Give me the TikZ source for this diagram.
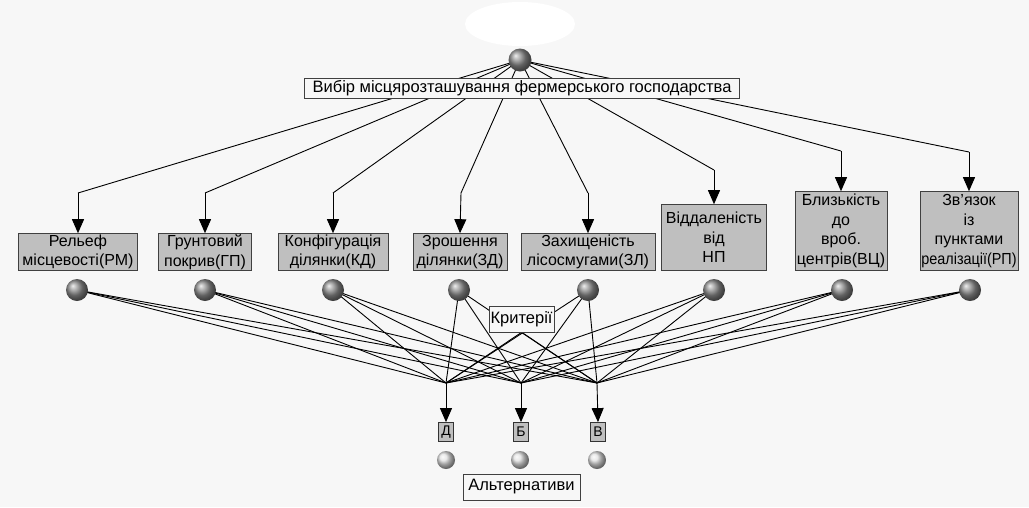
\documentclass[tikz,border=0pt]{standalone}
\usepackage{fontspec}
\setmainfont{Liberation Sans}
\usetikzlibrary{arrows.meta,shadings}
\pgfdeclarelayer{back}
\pgfdeclarelayer{lines}
\pgfsetlayers{back,lines,main}
\tikzset{
  crit/.style={draw=black!75, fill=black!25, line width=0.8pt, align=center, inner sep=0.5pt,
    font=\fontsize{16}{19.5}\selectfont, anchor=south},
  altbox/.style={draw=black!80, fill=black!25, line width=0.8pt, inner sep=1pt,
    minimum width=15pt, minimum height=19pt, font=\fontsize{14}{15}\selectfont},
  lbl/.style={draw=black!75, fill=white!97!black, line width=0.8pt, inner sep=2pt,
    font=\fontsize{16.5}{18}\selectfont},
  cball/.style={circle, inner sep=0pt, minimum size=22pt, shading=ball, ball color=black!45},
  aball/.style={circle, inner sep=0pt, minimum size=18pt, shading=ball, ball color=black!12},
  conn/.style={line width=0.9pt, black},
  arr/.style={line width=0.9pt, black, -{Triangle[width=12pt,length=14pt]}},
}
\begin{document}
\begin{tikzpicture}[x=1pt,y=-1pt]
\begin{pgfonlayer}{back}
\fill[black!3] (0,0) rectangle (1029,507);
\fill[white] (520,24) ellipse [x radius=55, y radius=22];
\end{pgfonlayer}
\useasboundingbox (0,0) rectangle (1029,507);

% top
\node[cball, minimum size=23pt] (top) at (520,60) {};
\node[lbl, minimum width=435pt, minimum height=20pt, inner sep=0.5pt] (goal) at (522,88) {Вибір місцярозташування фермерського господарства};

% criteria boxes
\node[crit, minimum width=119pt, minimum height=37pt] (c1) at (78,271) {Рельеф\\місцевості(РМ)};
\node[crit, minimum width=93pt, minimum height=37pt] (c2) at (205,271) {Грунтовий\\покрив(ГП)};
\node[crit, minimum width=110pt, minimum height=37pt] (c3) at (333,271) {Конфігурація\\ділянки(КД)};
\node[crit, minimum width=94pt, minimum height=37pt] (c4) at (460,271) {Зрошення\\ділянки(ЗД)};
\node[crit, minimum width=134pt, minimum height=37pt] (c5) at (588,271) {Захищеність\\лісосмугами(ЗЛ)};
\node[crit, minimum width=105pt, minimum height=66pt] (c6) at (714,271) {Віддаленість\\від\\НП};
\node[crit, minimum width=92pt, minimum height=79pt] (c7) at (841,271) {Близькість\\до\\вроб.\\центрів(ВЦ)};
\node[crit, minimum width=98pt, minimum height=79pt, text width=96pt] (c8) at (969,271) {Зв'язок\\із\\пунктами\\\scalebox{0.9}[1]{реалізації(РП)}};

% criteria spheres
\node[cball] (s1) at (77,290) {};
\node[cball] (s2) at (205,290) {};
\node[cball] (s3) at (333,290) {};
\node[cball] (s4) at (459,290) {};
\node[cball] (s5) at (588,290) {};
\node[cball] (s6) at (714,290) {};
\node[cball] (s7) at (842,290) {};
\node[cball] (s8) at (970,290) {};

% label Критерії
\node[lbl, minimum width=65pt, minimum height=26pt, inner sep=0.5pt] (krit) at (521.5,319) {Критерії};

% junctions
\coordinate (J1) at (446,383);
\coordinate (J2) at (521,383);
\coordinate (J3) at (597,383);

% alternatives
\node[altbox] (a1) at (446,432) {Д};
\node[altbox] (a2) at (521,432) {Б};
\node[altbox] (a3) at (598,432) {В};
\node[aball] (t1) at (446,460) {};
\node[aball] (t2) at (520,460) {};
\node[aball] (t3) at (597,460) {};
\node[lbl, minimum width=117pt, minimum height=26pt, inner sep=0.5pt] (alts) at (521.5,487) {Альтернативи};

% bends
\coordinate (b1) at (78,193);
\coordinate (b2) at (205,193);
\coordinate (b3) at (333,193);
\coordinate (b4) at (461,193);
\coordinate (b5) at (588,193);
\coordinate (b6) at (714,170);
\coordinate (b7) at (841,151);
\coordinate (b8) at (969,152);

\begin{pgfonlayer}{lines}
\foreach \i in {1,...,8} {
  \draw[conn] (top.center) -- (b\i);
  \draw[arr] (b\i) -- (c\i.north);
  \foreach \j in {1,2,3} {
    \draw[conn] (s\i.center) -- (J\j);
  }
}
\draw[conn] (krit.south) -- (J1);
\draw[conn] (krit.south) -- (J3);
\fill (krit.south) circle (1.5);
\draw[arr] (J1) -- (a1.north);
\draw[arr] (J2) -- (a2.north);
\draw[arr] (J3) -- (a3.north);
\end{pgfonlayer}
\end{tikzpicture}
\end{document}
